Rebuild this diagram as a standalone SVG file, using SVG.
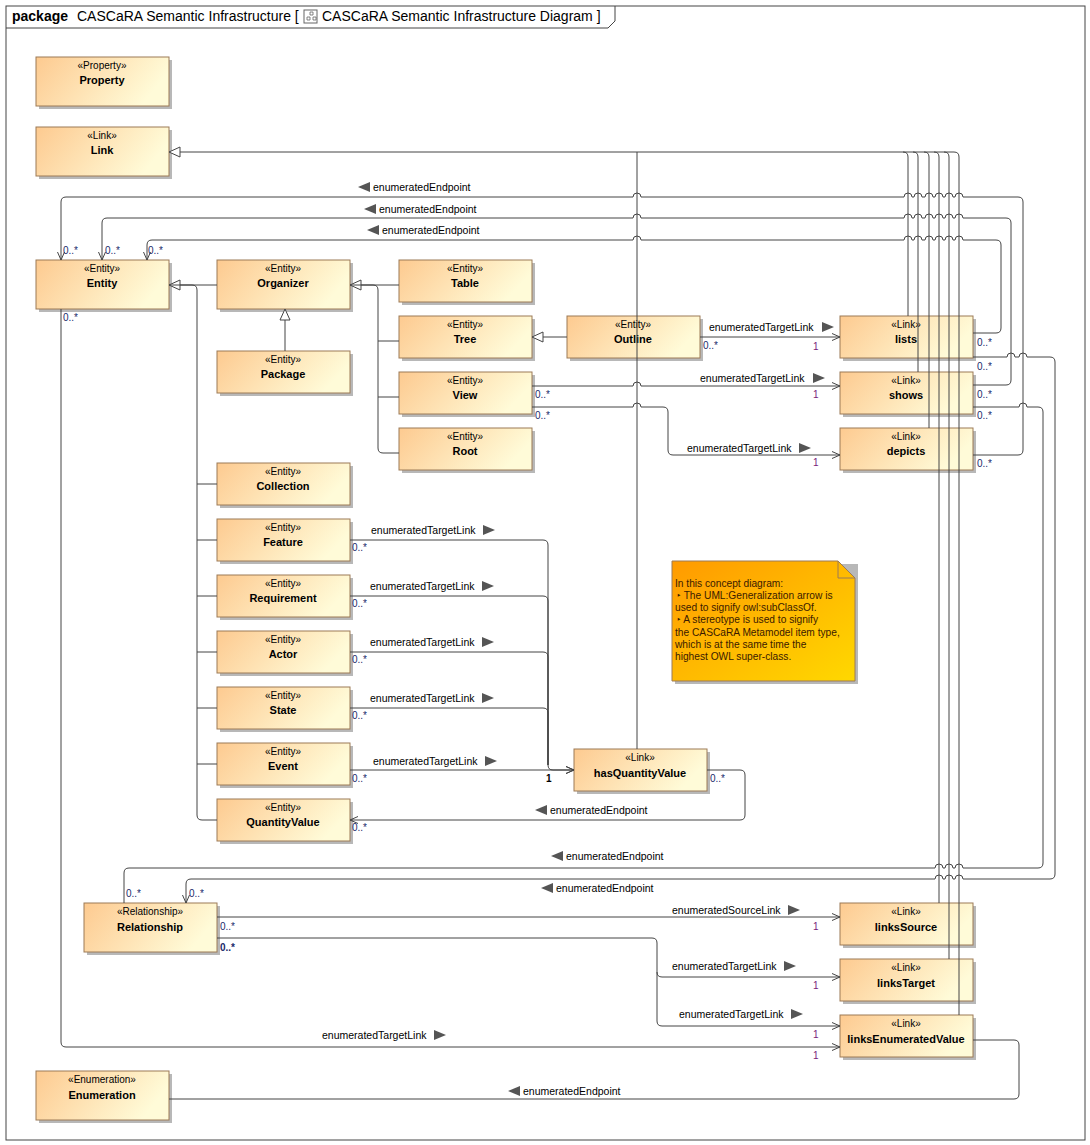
<svg xmlns="http://www.w3.org/2000/svg" width="1090" height="1145" viewBox="0 0 1090 1145">
<defs>
<linearGradient id="ng" x1="0" y1="0" x2="1" y2="0.3"><stop offset="0" stop-color="#fdca90"/><stop offset="1" stop-color="#fffbd8"/></linearGradient>
<linearGradient id="notegr" x1="0" y1="0" x2="1" y2="1"><stop offset="0" stop-color="#ff9a00"/><stop offset="1" stop-color="#ffd800"/></linearGradient>
<marker id="tri" markerUnits="userSpaceOnUse" markerWidth="14" markerHeight="14" refX="12" refY="6" orient="auto"><path d="M1,1 L12,6 L1,11 z" fill="#fff" stroke="#444" stroke-width="1"/></marker>
<marker id="arr" markerUnits="userSpaceOnUse" markerWidth="10" markerHeight="10" refX="9" refY="4.5" orient="auto-start-reverse"><path d="M1,1 L9,4.5 L1,8" fill="none" stroke="#444" stroke-width="1"/></marker>
</defs>
<style>
text{font-family:"Liberation Sans",Arial,sans-serif;fill:#000}
.st{font-size:10px;text-anchor:middle}
.nm{font-size:11px;font-weight:bold;text-anchor:middle}
.lb{font-size:10.5px}
.m{font-size:10px;fill:#1a2a6a}
.one{font-size:10px;fill:#7a1a7a}
.box{fill:url(#ng);stroke:#9c7a56;stroke-width:1}
.sh{fill:#b8b8b8}
.c{fill:none;stroke:#444;stroke-width:1}
.tr{fill:#555}
.nt{font-size:10.2px;fill:#3a1a00}
</style>
<rect x="6" y="6" width="1079" height="1134" fill="#fff" stroke="#444"/>
<path d="M6,28 H608 L615,21 V6" fill="none" stroke="#444"/>
<text x="12" y="21" style="font-size:14px;font-weight:bold">package</text>
<text x="77" y="21" style="font-size:14px">CASCaRA Semantic Infrastructure [</text>
<rect x="304" y="10" width="13" height="13" fill="#fff" stroke="#666"/>
<path d="M307,20 h3 v-3 h-3 z M313,20 h3 v-3 h-3 z M310,15 h3 v-3 h-3 z" fill="none" stroke="#666" stroke-width="0.8"/>
<text x="322" y="21" style="font-size:14px">CASCaRA Semantic Infrastructure Diagram ]</text>

<g id="nodes">
<g id="n-property"><rect class="sh" x="39" y="60" width="133" height="49"/><rect class="box" x="36" y="57" width="133" height="49"/><text class="st" x="102" y="69">«Property»</text><text class="nm" x="102" y="84">Property</text></g>
<g id="n-link"><rect class="sh" x="39" y="130" width="133" height="49"/><rect class="box" x="36" y="127" width="133" height="49"/><text class="st" x="102" y="139">«Link»</text><text class="nm" x="102" y="154">Link</text></g>
<g id="n-entity"><rect class="sh" x="39" y="263" width="133" height="49"/><rect class="box" x="36" y="260" width="133" height="49"/><text class="st" x="102" y="272">«Entity»</text><text class="nm" x="102" y="287">Entity</text></g>
<g id="n-organizer"><rect class="sh" x="220" y="263" width="133" height="49"/><rect class="box" x="217" y="260" width="133" height="49"/><text class="st" x="283" y="272">«Entity»</text><text class="nm" x="283" y="287">Organizer</text></g>
<g id="n-table"><rect class="sh" x="402" y="263" width="133" height="42"/><rect class="box" x="399" y="260" width="133" height="42"/><text class="st" x="465" y="272">«Entity»</text><text class="nm" x="465" y="287">Table</text></g>
<g id="n-tree"><rect class="sh" x="402" y="319" width="133" height="42"/><rect class="box" x="399" y="316" width="133" height="42"/><text class="st" x="465" y="328">«Entity»</text><text class="nm" x="465" y="343">Tree</text></g>
<g id="n-view"><rect class="sh" x="402" y="375" width="133" height="42"/><rect class="box" x="399" y="372" width="133" height="42"/><text class="st" x="465" y="384">«Entity»</text><text class="nm" x="465" y="399">View</text></g>
<g id="n-root"><rect class="sh" x="402" y="431" width="133" height="42"/><rect class="box" x="399" y="428" width="133" height="42"/><text class="st" x="465" y="440">«Entity»</text><text class="nm" x="465" y="455">Root</text></g>
<g id="n-outline"><rect class="sh" x="570" y="319" width="133" height="42"/><rect class="box" x="567" y="316" width="133" height="42"/><text class="st" x="633" y="328">«Entity»</text><text class="nm" x="633" y="343">Outline</text></g>
<g id="n-package"><rect class="sh" x="220" y="354" width="133" height="42"/><rect class="box" x="217" y="351" width="133" height="42"/><text class="st" x="283" y="363">«Entity»</text><text class="nm" x="283" y="378">Package</text></g>
<g id="n-collection"><rect class="sh" x="220" y="466" width="133" height="42"/><rect class="box" x="217" y="463" width="133" height="42"/><text class="st" x="283" y="475">«Entity»</text><text class="nm" x="283" y="490">Collection</text></g>
<g id="n-feature"><rect class="sh" x="220" y="522" width="133" height="42"/><rect class="box" x="217" y="519" width="133" height="42"/><text class="st" x="283" y="531">«Entity»</text><text class="nm" x="283" y="546">Feature</text></g>
<g id="n-requirement"><rect class="sh" x="220" y="578" width="133" height="42"/><rect class="box" x="217" y="575" width="133" height="42"/><text class="st" x="283" y="587">«Entity»</text><text class="nm" x="283" y="602">Requirement</text></g>
<g id="n-actor"><rect class="sh" x="220" y="634" width="133" height="42"/><rect class="box" x="217" y="631" width="133" height="42"/><text class="st" x="283" y="643">«Entity»</text><text class="nm" x="283" y="658">Actor</text></g>
<g id="n-state"><rect class="sh" x="220" y="690" width="133" height="42"/><rect class="box" x="217" y="687" width="133" height="42"/><text class="st" x="283" y="699">«Entity»</text><text class="nm" x="283" y="714">State</text></g>
<g id="n-event"><rect class="sh" x="220" y="746" width="133" height="42"/><rect class="box" x="217" y="743" width="133" height="42"/><text class="st" x="283" y="755">«Entity»</text><text class="nm" x="283" y="770">Event</text></g>
<g id="n-quantityvalue"><rect class="sh" x="220" y="802" width="133" height="42"/><rect class="box" x="217" y="799" width="133" height="42"/><text class="st" x="283" y="811">«Entity»</text><text class="nm" x="283" y="826">QuantityValue</text></g>
<g id="n-hasquantityvalue"><rect class="sh" x="577" y="752" width="133" height="42"/><rect class="box" x="574" y="749" width="133" height="42"/><text class="st" x="640" y="761">«Link»</text><text class="nm" x="640" y="777">hasQuantityValue</text></g>
<g id="n-lists"><rect class="sh" x="843" y="319" width="133" height="42"/><rect class="box" x="840" y="316" width="133" height="42"/><text class="st" x="906" y="328">«Link»</text><text class="nm" x="906" y="343">lists</text></g>
<g id="n-shows"><rect class="sh" x="843" y="375" width="133" height="42"/><rect class="box" x="840" y="372" width="133" height="42"/><text class="st" x="906" y="384">«Link»</text><text class="nm" x="906" y="399">shows</text></g>
<g id="n-depicts"><rect class="sh" x="843" y="431" width="133" height="42"/><rect class="box" x="840" y="428" width="133" height="42"/><text class="st" x="906" y="440">«Link»</text><text class="nm" x="906" y="455">depicts</text></g>
<g id="n-linkssource"><rect class="sh" x="843" y="906" width="133" height="42"/><rect class="box" x="840" y="903" width="133" height="42"/><text class="st" x="906" y="915">«Link»</text><text class="nm" x="906" y="931">linksSource</text></g>
<g id="n-linkstarget"><rect class="sh" x="843" y="962" width="133" height="42"/><rect class="box" x="840" y="959" width="133" height="42"/><text class="st" x="906" y="971">«Link»</text><text class="nm" x="906" y="987">linksTarget</text></g>
<g id="n-linksenumeratedvalue"><rect class="sh" x="843" y="1018" width="133" height="42"/><rect class="box" x="840" y="1015" width="133" height="42"/><text class="st" x="906" y="1027">«Link»</text><text class="nm" x="906" y="1043">linksEnumeratedValue</text></g>
<g id="n-relationship"><rect class="sh" x="87" y="906" width="133" height="49"/><rect class="box" x="84" y="903" width="133" height="49"/><text class="st" x="150" y="915">«Relationship»</text><text class="nm" x="150" y="931">Relationship</text></g>
<g id="n-enumeration"><rect class="sh" x="39" y="1074" width="133" height="49"/><rect class="box" x="36" y="1071" width="133" height="49"/><text class="st" x="102" y="1083">«Enumeration»</text><text class="nm" x="102" y="1099">Enumeration</text></g>
<g id="n-note"><path d="M675,564 H858 V684 H675 z" fill="#b8b8b8"/><path d="M672,561 H838 L855,578 V681 H672 z" fill="url(#notegr)" stroke="#9c7a56"/><path d="M838,561 V578 H855" fill="none" stroke="#9c7a56"/>
<text class="nt" x="675" y="587">In this concept diagram:</text>
<text class="nt" x="677" y="599">‣ The UML:Generalization arrow is</text>
<text class="nt" x="675" y="611">used to signify owl:subClassOf.</text>
<text class="nt" x="677" y="623">‣ A stereotype is used to signify</text>
<text class="nt" x="675" y="636">the CASCaRA Metamodel item type,</text>
<text class="nt" x="675" y="648">which is at the same time the</text>
<text class="nt" x="675" y="660">highest OWL super-class.</text></g>
</g>

<g id="connectors">
<path class="c" d="M954,152 H169" marker-end="url(#tri)"/>
<path class="c" d="M908,316 V157 Q908,152 903,152"/>
<path class="c" d="M918,372 V157 Q918,152 913,152"/>
<path class="c" d="M929,428 V157 Q929,152 924,152"/>
<path class="c" d="M939,903 V157 Q939,152 934,152"/>
<path class="c" d="M949,959 V157 Q949,152 944,152"/>
<path class="c" d="M959,1015 V157 Q959,152 954,152"/>
<path class="c" d="M637,749 V152"/>
<path class="c" d="M217,285 H169" marker-end="url(#tri)"/>
<path class="c" d="M217,820 H202 Q197,820 197,815 V290 Q197,285 192,285 H169"/>
<path class="c" d="M217,484 H197 M217,540 H197 M217,596 H197 M217,652 H197 M217,708 H197 M217,764 H197"/>
<path class="c" d="M399,285 H350" marker-end="url(#tri)"/>
<path class="c" d="M399,453 H383 Q378,453 378,448 V290 Q378,285 373,285 H350"/>
<path class="c" d="M399,341 H378 M399,397 H378"/>
<path class="c" d="M285,351 V309" marker-end="url(#tri)"/>
<path class="c" d="M567,337 H532" marker-end="url(#tri)"/>
<path class="c" marker-start="url(#arr)" d="M61,260 V202 Q61,197 66,197 H633 a4,4 0 0 1 8,0 H904 a4,4 0 0 1 8,0 H914 a4,4 0 0 1 8,0 H925 a4,4 0 0 1 8,0 H935 a4,4 0 0 1 8,0 H945 a4,4 0 0 1 8,0 H955 a4,4 0 0 1 8,0 H1018 Q1023,197 1023,202 V450 Q1023,455 1018,455 H973"/>
<path class="c" marker-start="url(#arr)" d="M102,260 V223 Q102,218 107,218 H633 a4,4 0 0 1 8,0 H904 a4,4 0 0 1 8,0 H914 a4,4 0 0 1 8,0 H925 a4,4 0 0 1 8,0 H935 a4,4 0 0 1 8,0 H945 a4,4 0 0 1 8,0 H955 a4,4 0 0 1 8,0 H1006 Q1011,218 1011,223 V380 Q1011,385 1006,385 H973"/>
<path class="c" marker-start="url(#arr)" d="M147,260 V245 Q147,240 152,240 H633 a4,4 0 0 1 8,0 H904 a4,4 0 0 1 8,0 H914 a4,4 0 0 1 8,0 H925 a4,4 0 0 1 8,0 H935 a4,4 0 0 1 8,0 H945 a4,4 0 0 1 8,0 H955 a4,4 0 0 1 8,0 H996 Q1001,240 1001,245 V328 Q1001,333 996,333 H973"/>
<path class="c" d="M124,903 V873 Q124,868 129,868 H935 a4,4 0 0 1 8,0 H945 a4,4 0 0 1 8,0 H955 a4,4 0 0 1 8,0 H1038 Q1043,868 1043,863 V412 Q1043,407 1038,407 H1027 a4,4 0 0 0 -8,0 H973"/>
<path class="c" marker-start="url(#arr)" d="M186,903 V884 Q186,879 191,879 H935 a4,4 0 0 1 8,0 H945 a4,4 0 0 1 8,0 H955 a4,4 0 0 1 8,0 H1050 Q1055,879 1055,874 V362 Q1055,357 1050,357 H1027 a4,4 0 0 0 -8,0 H1015 a4,4 0 0 0 -8,0 H973"/>
<path class="c" marker-end="url(#arr)" d="M700,337 H840"/>
<path class="c" marker-end="url(#arr)" d="M532,386 H633 a4,4 0 0 1 8,0 H840"/>
<path class="c" marker-end="url(#arr)" d="M532,407 H633 a4,4 0 0 1 8,0 H663 Q668,407 668,412 V450 Q668,455 673,455 H840"/>
<path class="c" marker-end="url(#arr)" d="M350,540 H543 Q548,540 548,545 V765 Q548,770 553,770 H574"/>
<path class="c" d="M350,596 H543 Q548,596 548,601 V765 M350,652 H543 Q548,652 548,657 V765 M350,708 H543 Q548,708 548,713 V765"/>
<path class="c" marker-end="url(#arr)" d="M350,770 H574"/>
<path class="c" marker-end="url(#arr)" d="M707,770 H740 Q745,770 745,775 V815 Q745,820 740,820 H350"/>
<path class="c" marker-end="url(#arr)" d="M61,309 V1042 Q61,1047 66,1047 H840"/>
<path class="c" marker-end="url(#arr)" d="M217,917 H840"/>
<path class="c" marker-end="url(#arr)" d="M217,938 H652 Q657,938 657,943 V972 Q657,977 662,977 H840"/>
<path class="c" marker-end="url(#arr)" d="M657,972 V1021 Q657,1026 662,1026 H840"/>
<path class="c" d="M169,1099 H1014 Q1019,1099 1019,1094 V1045 Q1019,1040 1014,1040 H973"/>

<g id="labels">
<polygon class="tr" points="358,187 370,182 370,192"/><text class="lb" x="373" y="191">enumeratedEndpoint</text>
<polygon class="tr" points="364,209 376,204 376,214"/><text class="lb" x="379" y="213">enumeratedEndpoint</text>
<polygon class="tr" points="367,230 379,225 379,235"/><text class="lb" x="382" y="234">enumeratedEndpoint</text>
<text class="m" x="63" y="254">0..*</text><text class="m" x="105" y="254">0..*</text><text class="m" x="148" y="254">0..*</text>
<text class="m" x="63" y="321">0..*</text>
<text class="lb" x="709" y="331">enumeratedTargetLink</text><polygon class="tr" points="822,322 834,327 822,332"/>
<text class="m" x="703" y="349">0..*</text><text class="one" x="813" y="350">1</text>
<text class="lb" x="700" y="382">enumeratedTargetLink</text><polygon class="tr" points="813,373 825,378 813,383"/>
<text class="m" x="535" y="398">0..*</text><text class="one" x="813" y="398">1</text>
<text class="m" x="535" y="419">0..*</text>
<text class="lb" x="687" y="452">enumeratedTargetLink</text><polygon class="tr" points="799,443 811,448 799,453"/>
<text class="one" x="813" y="466">1</text>
<text class="m" x="977" y="346">0..*</text><text class="m" x="977" y="370">0..*</text>
<text class="m" x="977" y="398">0..*</text><text class="m" x="977" y="419">0..*</text>
<text class="m" x="977" y="467">0..*</text>
<text class="lb" x="371" y="534">enumeratedTargetLink</text><polygon class="tr" points="483,525 495,530 483,535"/><text class="m" x="352" y="551">0..*</text>
<text class="lb" x="370" y="590">enumeratedTargetLink</text><polygon class="tr" points="482,581 494,586 482,591"/><text class="m" x="352" y="607">0..*</text>
<text class="lb" x="370" y="646">enumeratedTargetLink</text><polygon class="tr" points="482,637 494,642 482,647"/><text class="m" x="352" y="663">0..*</text>
<text class="lb" x="370" y="702">enumeratedTargetLink</text><polygon class="tr" points="482,693 494,698 482,703"/><text class="m" x="352" y="719">0..*</text>
<text class="lb" x="373" y="765">enumeratedTargetLink</text><polygon class="tr" points="485,756 497,761 485,766"/><text class="m" x="352" y="782">0..*</text>
<text x="546" y="782" style="font-size:10px;font-weight:bold">1</text>
<text class="m" x="710" y="782">0..*</text>
<polygon class="tr" points="535,810 547,805 547,815"/><text class="lb" x="550" y="814">enumeratedEndpoint</text>
<text class="m" x="352" y="831">0..*</text>
<polygon class="tr" points="551,856 563,851 563,861"/><text class="lb" x="566" y="860">enumeratedEndpoint</text>
<polygon class="tr" points="541,888 553,883 553,893"/><text class="lb" x="556" y="892">enumeratedEndpoint</text>
<text class="m" x="126" y="897">0..*</text><text class="m" x="189" y="897">0..*</text>
<text class="lb" x="672" y="914">enumeratedSourceLink</text><polygon class="tr" points="788,905 800,910 788,915"/>
<text class="m" x="220" y="930">0..*</text><text class="one" x="813" y="930">1</text>
<text class="m" x="220" y="951" style="font-weight:bold">0..*</text>
<text class="lb" x="672" y="970">enumeratedTargetLink</text><polygon class="tr" points="784,961 796,966 784,971"/><text class="one" x="813" y="989">1</text>
<text class="lb" x="679" y="1018">enumeratedTargetLink</text><polygon class="tr" points="791,1009 803,1014 791,1019"/><text class="one" x="813" y="1038">1</text>
<text class="lb" x="322" y="1039">enumeratedTargetLink</text><polygon class="tr" points="434,1030 446,1035 434,1040"/><text class="one" x="813" y="1059">1</text>
<polygon class="tr" points="508,1091 520,1086 520,1096"/><text class="lb" x="523" y="1095">enumeratedEndpoint</text>
</g>
</g>
</svg>
